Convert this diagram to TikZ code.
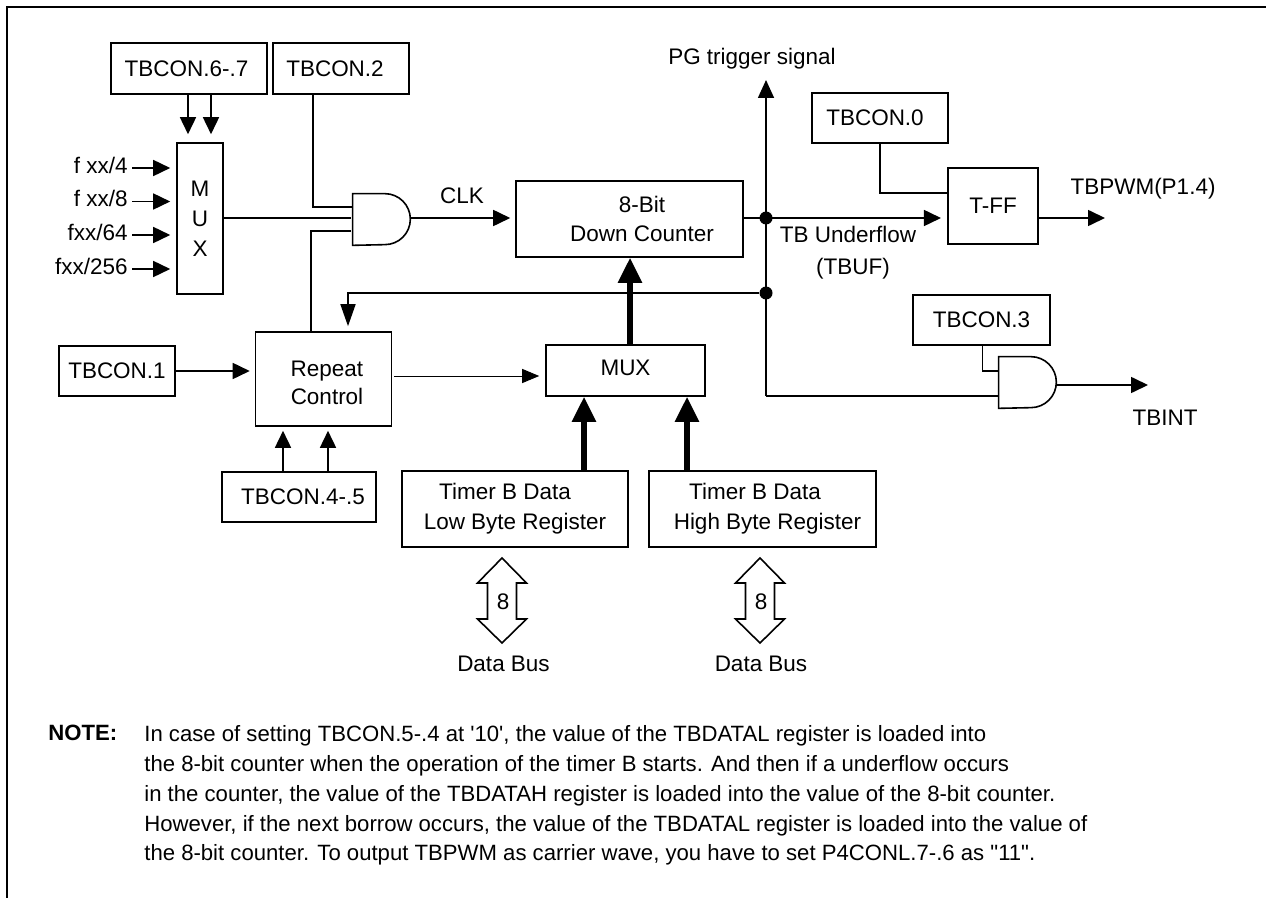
\documentclass[tikz,border=0pt]{standalone}
\usepackage{fontspec}
\usepackage{xcolor}
\newfontfamily\diagfont{Liberation Sans}
\usetikzlibrary{arrows.meta, calc}
\newcommand{\diagsize}{\diagfont\fontsize{12.8}{17}\selectfont}
\newcommand{\notesize}{\diagfont\fontsize{12.6}{17}\selectfont}
\newcommand{\gatepath}[1]{%
  \draw[wire] (#1.north west) -- ($(#1.north east)+(-25.5,0)$)
    arc[start angle=90, end angle=-90, radius=0.51cm] -- (#1.south west) -- cycle;}

\begin{document}
\begin{tikzpicture}[
    x=0.02cm, y=-0.02cm,
    every node/.style={font=\diagsize, text=black},
    wire/.style={line width=0.032cm, draw=black},
    sig/.style={wire, -{Triangle[length=0.34cm, width=0.32cm]}},
    sigthin/.style={line width=0.02cm, -{Triangle[length=0.34cm, width=0.28cm]}},
    bus/.style={line width=0.11cm, -{Triangle[length=0.5cm, width=0.46cm]}},
    regbox/.style={draw=black, line width=0.032cm, align=center, inner sep=0pt, anchor=center},
    lbl/.style={inner sep=0pt, text height=0.3cm, text depth=0.08cm, align=center},
    gatebox/.style={minimum width=1.14cm, minimum height=1.02cm, inner sep=0pt},
    dot/.style={circle, fill=black, inner sep=0pt, minimum size=0.26cm}
]
\useasboundingbox (0,0) rectangle (1266,898);

% Frame (left and top only)
\draw[line width=0.04cm] (7,898) -- (7,7) -- (1266,7);

% Control registers
\node[regbox, minimum width=3.12cm, minimum height=1.02cm] (tbcon67) at (189,68.5) {TBCON.6-.7\hspace*{0.1cm}};
\node[regbox, minimum width=2.72cm, minimum height=1.02cm] (tbcon2) at (341,68.5) {TBCON.2\hspace*{0.24cm}};
\node[regbox, minimum width=2.72cm, minimum height=1cm] (tbcon0) at (880,118) {TBCON.0\hspace*{0.2cm}};
\node[regbox, minimum width=2.74cm, minimum height=1cm] (tbcon3) at (981.5,320) {TBCON.3};
\node[regbox, minimum width=2.32cm, minimum height=1cm] (tbcon1) at (117,371) {TBCON.1};
\node[regbox, minimum width=3.08cm, minimum height=1cm] (tbcon45) at (299,497) {\hspace*{0.16cm}TBCON.4-.5};

% Clock selection
\node[regbox, minimum width=0.92cm, minimum height=3.02cm] (muxclk) at (200,218.5) {M\\U\\X};
\node[lbl, anchor=east] (fxa) at (128,168) {f xx/4};
\node[lbl, anchor=east] (fxb) at (128,201.5) {f xx/8};
\node[lbl, anchor=east] (fxc) at (128,235) {fxx/64};
\node[lbl, anchor=east] (fxd) at (128,269) {fxx/256};
\node[gatebox] (gateclk) at (381.5,219.5) {};
\gatepath{gateclk}

% Counter and reload path
\node[regbox, minimum width=4.54cm, minimum height=1.52cm] (counter) at (629.5,219) {\hspace*{0.5cm}8-Bit\\\hspace*{0.5cm}Down Counter};
\node[regbox, minimum width=2.72cm, minimum height=1.88cm] (repeatctl) at (323.5,379) {\hspace*{0.14cm}\rule{0pt}{0.46cm}Repeat\\[-0.04cm]\hspace*{0.14cm}Control};
\node[regbox, minimum width=3.18cm, minimum height=1.02cm] (muxdata) at (625.5,370.5) {MUX\rule[-0.12cm]{0pt}{0.12cm}};
\node[regbox, minimum width=4.52cm, minimum height=1.52cm] (tdatal) at (515,509) {Timer B Data\hspace*{0.4cm}\\Low Byte Register};
\node[regbox, minimum width=4.54cm, minimum height=1.52cm] (tdatah) at (762.5,509) {Timer B Data\hspace*{0.3cm}\\\hspace*{0.2cm}High Byte Register};

% Outputs
\node[regbox, minimum width=1.81cm, minimum height=1.52cm] (tff) at (993,206) {T-FF};
\node[gatebox] (gateint) at (1027.5,382.5) {};
\gatepath{gateint}
\node[dot] (dotuf) at (766,218) {};
\node[dot] (dotfb) at (766,293) {};
\coordinate (pgtip) at (766,80);
\coordinate (tffout) at (1105,218);
\coordinate (intout) at (1148,385);
\coordinate (fbturn) at (348,293);
\coordinate (busbot) at (766,396);

% Labels
\node[lbl] (clk) at (462,198) {CLK};
\node[lbl] (pglabel) at (752,59) {PG trigger signal};
\node[lbl] (tbpwm) at (1143,189) {TBPWM(P1.4)};
\node[lbl] (tbuf) at (848,237) {TB Underflow};
\node[lbl] (tbufb) at (853,269) {(TBUF)};
\node[lbl] (tbint) at (1165,420) {TBINT};

% Selection inputs
\coordinate (xa) at (188,0);
\coordinate (xb) at (211,0);
\draw[sig, shorten >=0.16cm] (xa |- tbcon67.south) -- (xa |- muxclk.north);
\draw[sig, shorten >=0.16cm] (xb |- tbcon67.south) -- (xb |- muxclk.north);
\foreach \fx in {fxa, fxb, fxc, fxd} {
  \draw[sig, shorten >=0.12cm, shorten <=0.08cm] (\fx.east) -- (\fx.east -| muxclk.west);
}

% Clock gate
\coordinate (gaa) at (0,207);
\coordinate (gac) at (0,231);
\coordinate (xr) at (311,0);
\draw[wire] (tbcon2.south -| 313,0) -- (313,207) -- (gaa -| gateclk.west);
\draw[wire, shorten >=0.04cm] (muxclk.east |- gateclk.west) ++(0,-1.5) -- ($(gateclk.west)+(0,-1.5)$);
\draw[wire, shorten >=0.04cm] (xr |- repeatctl.north) -- (xr |- gac) -- (gac -| gateclk.west);
\draw[sig, shorten >=0.1cm] ($(gateclk.east)+(0,-1.5)$) -- ($(counter.west)+(0,-1)$);

% Underflow
\draw[wire, -{Triangle[length=0.36cm, width=0.32cm]}] (busbot) -- (pgtip);
\draw[sig, shorten >=0.12cm] (counter.east |- dotuf) -- (dotuf -| tff.west);
\draw[sig] (tff.east |- tffout) -- (tffout);
\draw[wire] (tbcon0.south) -- (tbcon0.south |- 0,193) -- (tff.west |- 0,193);
\draw[wire, -{Triangle[length=0.44cm, width=0.3cm]}, shorten >=0.1cm] (dotfb) -- (fbturn) -- (fbturn |- repeatctl.north);

% Interrupt gate
\draw[wire] (busbot) -- (gateint.west |- busbot);
\draw[wire] (982.5,0 |- tbcon3.south) -- (982.5,371) -- (gateint.west |- 0,371);
\draw[sig] ($(gateint.east)+(0,2.5)$) -- (intout);

% Repeat control and data path
\draw[sig, shorten >=0.1cm] (tbcon1.east) -- (tbcon1.east -| repeatctl.west);
\draw[sigthin, shorten >=0.12cm, shorten <=0.04cm] (repeatctl.east |- 0,376) -- (muxdata.west |- 0,376);
\coordinate (xd) at (283,0);
\coordinate (xe) at (328,0);
\draw[sig, shorten >=0.08cm] (xd |- tbcon45.north) -- (xd |- repeatctl.south);
\draw[sig, shorten >=0.08cm] (xe |- tbcon45.north) -- (xe |- repeatctl.south);
\coordinate (xf) at (584,0);
\coordinate (xg) at (687,0);
\coordinate (xh) at (630,0);
\draw[bus] (xf |- tdatal.north) -- (xf |- muxdata.south);
\draw[bus] (xg |- tdatah.north) -- (xg |- muxdata.south);
\draw[bus] (xh |- muxdata.north) -- (xh |- counter.south);

% Data bus arrows
\node[lbl] (widtha) at (503,604) {8};
\node[lbl] (widthb) at (761,604) {8};
\node[lbl] (busa) at (503.5,666) {Data Bus};
\node[lbl] (busb) at (761,666) {Data Bus};
\foreach \wd in {widtha, widthb} {
  \draw[wire] ($(\wd)+(-1,-46)$) -- ++(24.5,25) -- ++(-10,0) -- ++(0,36) -- ++(10,0)
    -- ++(-24.5,24) -- ++(-24.5,-24) -- ++(10,0) -- ++(0,-36) -- ++(-10,0) -- cycle;
}

% Note
\node[anchor=north west, inner sep=0pt, font=\notesize\bfseries] (notehead) at (48,725) {NOTE:};
\node[anchor=north west, inner sep=0pt, align=left, font=\notesize] (notebody) at (144,725) {In case of setting TBCON.5-.4 at '10', the value of the TBDATAL register is loaded into\\
the 8-bit counter when the operation of the timer B starts. And then if a underflow occurs\\
in the counter, the value of the TBDATAH register is loaded into the value of the 8-bit counter.\\
However, if the next borrow occurs, the value of the TBDATAL register is loaded into the value of\\
the 8-bit counter. To output TBPWM as carrier wave, you have to set P4CONL.7-.6 as "11".};

\end{tikzpicture}
\end{document}
